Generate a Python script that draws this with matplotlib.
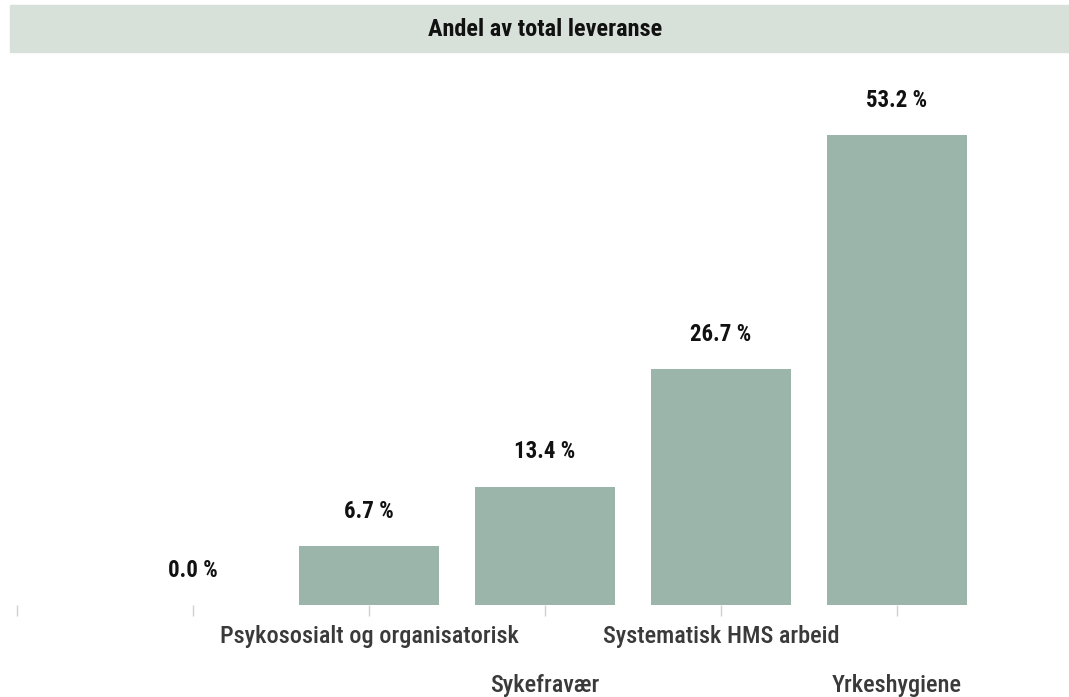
import matplotlib.pyplot as plt
from matplotlib.patches import Rectangle
import matplotlib.transforms as mtransforms

# data
categories = ["", "Psykososialt og organisatorisk", "Sykefravær",
              "Systematisk HMS arbeid", "Yrkeshygiene"]
values = [0.0, 6.7, 13.4, 26.7, 53.2]
value_labels = ["0.0 %", "6.7 %", "13.4 %", "26.7 %", "53.2 %"]
title = "Andel av total leveranse"

BAR_COLOR = "#9BB5AB"
BAND_COLOR = "#D7E1DA"
TEXT_COLOR = "#111111"
TICK_TEXT = "#3a3a3a"
FONT = ["Roboto Condensed", "Liberation Sans Narrow", "Liberation Sans", "DejaVu Sans"]

W, H = 1069, 697
fig = plt.figure(figsize=(W / 100, H / 100), dpi=100)

# title band
band = Rectangle((10 / W, 1 - 52 / H), 1 - 10 / W, 47 / H,
                 transform=fig.transFigure, color=BAND_COLOR, zorder=0)
fig.patches.append(band)
fig.text(545 / W, 1 - 29 / H, title, ha="center", va="center",
         fontsize=17.5, fontweight="bold", family=FONT, color=TEXT_COLOR)

# axes: baseline at 605 px from top, top at 60 px
ax = fig.add_axes([0, 92 / H, 1, (605 - 60) / H])
ax.set_xlim(-17 / 176, 5 + (W - 897) / 176)
ax.set_ylim(0, 545 / 8.835)

pos = list(range(1, len(categories) + 1))
ax.bar(pos, values, width=0.8, color=BAR_COLOR)

for x, v, lab in zip(pos, values, value_labels):
    ax.annotate(lab, (x, v), xytext=(0, 25), textcoords="offset points",
                ha="center", va="center", fontsize=16.5, fontweight="bold",
                family=FONT, color=TEXT_COLOR)

ax.set_xticks(range(0, len(categories) + 1))
ax.set_xticklabels([])
ax.tick_params(axis="x", length=8, width=1, color="#d0d0d0")
ax.set_yticks([])
for s in ax.spines.values():
    s.set_visible(False)

# category labels staggered on two rows
trans = mtransforms.blended_transform_factory(ax.transData, ax.transAxes)
for i, (x, c) in enumerate(zip(pos, categories)):
    y_off = -30 if i % 2 == 1 else -77
    ax.annotate(c, (x, 0), xycoords=trans, xytext=(0, y_off * 0.75),
                textcoords="offset points", ha="center", va="center",
                fontsize=17.5, fontweight="medium", family=FONT,
                color=TICK_TEXT)

fig.savefig("out.png", dpi=100)
